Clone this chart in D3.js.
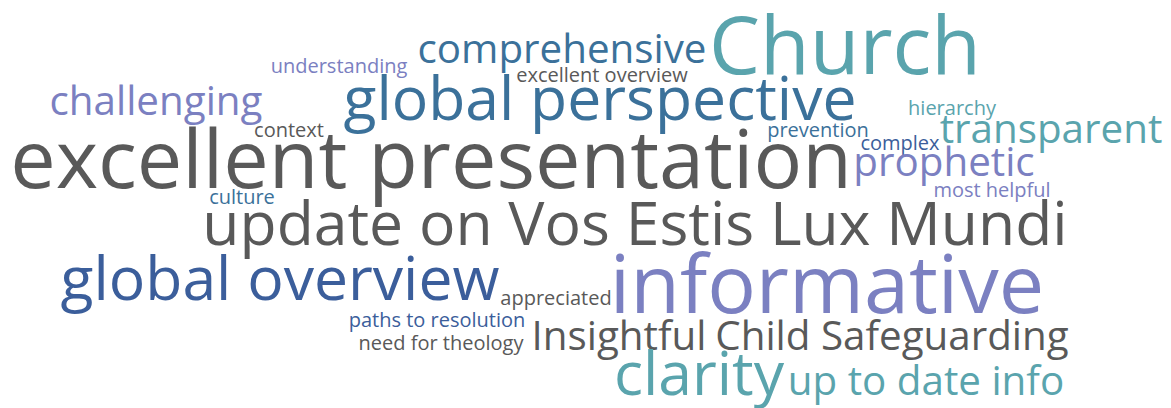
<!DOCTYPE html>
<html>
<head>
<meta charset="utf-8">
<script src="https://cdn.jsdelivr.net/npm/d3@7"></script>
<style>
  html, body { margin: 0; padding: 0; background: #fff; }
  svg { display: block; }
</style>
</head>
<body>
<div id="chart"></div>
<script>
// word cloud: feedback words, weight = number of mentions
const words = [
  "Church", "comprehensive", "understanding", "excellent overview",
  "global perspective", "challenging", "context", "excellent presentation",
  "prevention", "hierarchy", "transparent", "complex", "prophetic",
  "most helpful", "culture", "update on Vos Estis Lux Mundi",
  "global overview", "appreciated", "informative", "paths to resolution",
  "need for theology", "Insightful", "Child Safeguarding", "clarity",
  "up to date info"
];
const weights = [4, 2, 1, 1, 3, 2, 1, 4, 1, 1, 2, 1, 2, 1, 1, 3, 3, 1, 4, 1, 1, 2, 2, 3, 2];
const groups = [
  "teal", "steel", "purple", "gray", "steel", "purple", "gray", "gray",
  "steel", "teal", "teal", "navy", "purple", "purple", "steel", "gray",
  "navy", "gray", "purple", "navy", "gray", "gray", "gray", "teal", "teal"
];

// cloud placement (word centre, baseline) in the 1171 x 408 frame
const layout = [
  [845, 74], [562, 63], [339, 73], [602, 82], [600, 120], [156, 115],
  [289, 137], [431, 188], [818, 137], [952, 115], [1051, 143], [900, 150],
  [944, 176], [992, 197], [242, 204], [635, 245], [280, 300], [556, 305],
  [827, 313], [437, 327], [441, 350], [619, 350], [892, 350], [699, 395],
  [926, 395]
];

const width = 1171, height = 408;

const x = d3.scaleLinear().domain([0, 1171]).range([0, width]);
const y = d3.scaleLinear().domain([0, 408]).range([0, height]);
const size = d3.scaleLinear().domain([1, 4]).range([20, 81]);
const color = d3.scaleOrdinal()
  .domain(["gray", "teal", "steel", "navy", "purple"])
  .range(["#595959", "#5aa4ad", "#3b719a", "#3b5e9b", "#7b80c1"]);

const data = words.map((w, i) => ({
  text: w, weight: weights[i], group: groups[i], pos: layout[i]
}));

const svg = d3.select("#chart").append("svg")
  .attr("width", width)
  .attr("height", height);

svg.append("g")
  .selectAll("text")
  .data(data)
  .join("text")
  .attr("x", d => x(d.pos[0]))
  .attr("y", d => y(d.pos[1]))
  .attr("text-anchor", "middle")
  .style("font-family", "'Open Sans', 'DejaVu Sans', sans-serif")
  .style("font-size", d => size(d.weight) + "px")
  .attr("fill", d => color(d.group))
  .text(d => d.text);
</script>
</body>
</html>
